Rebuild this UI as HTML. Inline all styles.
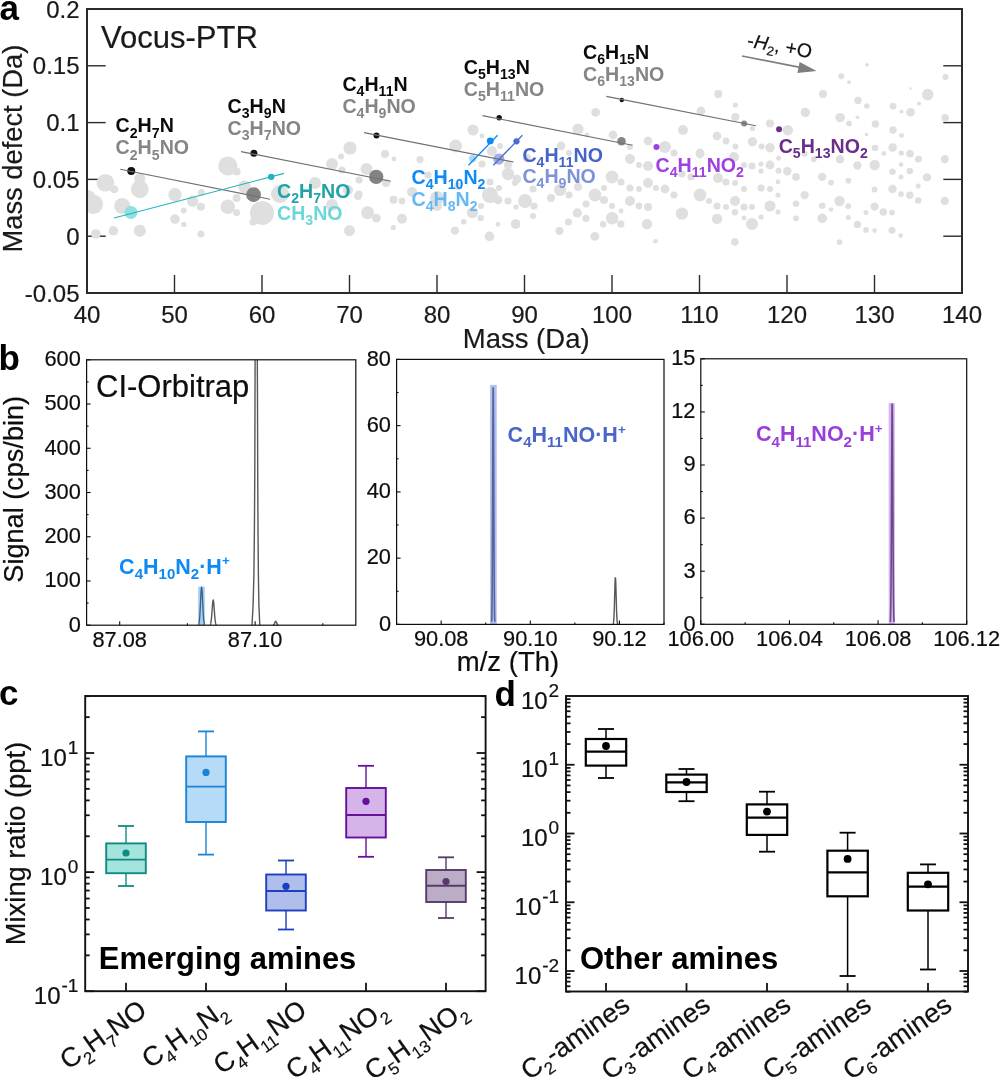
<!DOCTYPE html>
<html><head><meta charset="utf-8"><style>
html,body{margin:0;padding:0;background:#fff;}
svg{display:block;}
text{font-family:'Liberation Sans', Arial, sans-serif;}
</style></head><body>
<svg width="1000" height="1077" viewBox="0 0 1000 1077">
<rect x="0" y="0" width="1000" height="1077" fill="#fff"/>
<line x1="174.5" y1="293" x2="174.5" y2="275" stroke="#2b2b2b" stroke-width="1.4" />
<line x1="262" y1="293" x2="262" y2="275" stroke="#2b2b2b" stroke-width="1.4" />
<line x1="349.5" y1="293" x2="349.5" y2="275" stroke="#2b2b2b" stroke-width="1.4" />
<line x1="437" y1="293" x2="437" y2="275" stroke="#2b2b2b" stroke-width="1.4" />
<line x1="524.5" y1="293" x2="524.5" y2="275" stroke="#2b2b2b" stroke-width="1.4" />
<line x1="612" y1="293" x2="612" y2="275" stroke="#2b2b2b" stroke-width="1.4" />
<line x1="699.5" y1="293" x2="699.5" y2="275" stroke="#2b2b2b" stroke-width="1.4" />
<line x1="787" y1="293" x2="787" y2="275" stroke="#2b2b2b" stroke-width="1.4" />
<line x1="874.5" y1="293" x2="874.5" y2="275" stroke="#2b2b2b" stroke-width="1.4" />
<line x1="87" y1="65.8" x2="105.7" y2="65.8" stroke="#2b2b2b" stroke-width="1.4" />
<line x1="962" y1="65.8" x2="943.3" y2="65.8" stroke="#2b2b2b" stroke-width="1.4" />
<line x1="87" y1="122.6" x2="105.7" y2="122.6" stroke="#2b2b2b" stroke-width="1.4" />
<line x1="962" y1="122.6" x2="943.3" y2="122.6" stroke="#2b2b2b" stroke-width="1.4" />
<line x1="87" y1="179.4" x2="105.7" y2="179.4" stroke="#2b2b2b" stroke-width="1.4" />
<line x1="962" y1="179.4" x2="943.3" y2="179.4" stroke="#2b2b2b" stroke-width="1.4" />
<line x1="87" y1="236.2" x2="105.7" y2="236.2" stroke="#2b2b2b" stroke-width="1.4" />
<line x1="962" y1="236.2" x2="943.3" y2="236.2" stroke="#2b2b2b" stroke-width="1.4" />
<defs><clipPath id="ca"><rect x="87" y="9" width="875" height="284"/></clipPath></defs>
<g clip-path="url(#ca)" fill="#dfdfdf">
<circle cx="105.4" cy="182.8" r="8.8"/>
<circle cx="114.2" cy="189.2" r="4"/>
<circle cx="93.4" cy="204.4" r="9.6"/>
<circle cx="87.5" cy="198" r="8"/>
<circle cx="139.8" cy="178.8" r="5.6"/>
<circle cx="139.8" cy="189.2" r="8.8"/>
<circle cx="122.2" cy="206" r="8"/>
<circle cx="175" cy="194.8" r="6.7"/>
<circle cx="192.6" cy="201.2" r="5.6"/>
<circle cx="201.4" cy="192.4" r="3.5"/>
<circle cx="200.9" cy="206.8" r="4"/>
<circle cx="183.8" cy="210.5" r="2.9"/>
<circle cx="175" cy="219.1" r="4.8"/>
<circle cx="183.8" cy="224.4" r="2.7"/>
<circle cx="113.4" cy="230.8" r="4.8"/>
<circle cx="139.8" cy="230.8" r="6.1"/>
<circle cx="95.8" cy="234" r="4.8"/>
<circle cx="200.9" cy="234" r="3.5"/>
<circle cx="227.8" cy="166" r="9.6"/>
<circle cx="236.6" cy="171.6" r="4"/>
<circle cx="227.8" cy="206.8" r="7.2"/>
<circle cx="236.6" cy="212.4" r="3.5"/>
<circle cx="236.6" cy="198" r="4"/>
<circle cx="244.6" cy="186.8" r="6.4"/>
<circle cx="262" cy="213" r="12"/>
<circle cx="253" cy="222" r="3.6"/>
<circle cx="280" cy="194" r="9"/>
<circle cx="315" cy="183" r="6"/>
<circle cx="332" cy="164" r="6"/>
<circle cx="342" cy="170" r="3.6"/>
<circle cx="350" cy="148" r="6.6"/>
<circle cx="341" cy="156.5" r="3"/>
<circle cx="366.5" cy="169" r="6"/>
<circle cx="359" cy="180" r="3.6"/>
<circle cx="359" cy="194" r="3.6"/>
<circle cx="348" cy="190" r="5"/>
<circle cx="332" cy="205" r="6"/>
<circle cx="367.6" cy="212.6" r="6.4"/>
<circle cx="376.4" cy="218.1" r="4.4"/>
<circle cx="349.5" cy="230.6" r="5.5"/>
<circle cx="385" cy="154" r="4"/>
<circle cx="394" cy="159" r="2.4"/>
<circle cx="386" cy="183" r="4"/>
<circle cx="393.5" cy="199.8" r="4"/>
<circle cx="402" cy="201" r="3.4"/>
<circle cx="402" cy="218.8" r="5"/>
<circle cx="393.3" cy="227.6" r="2.6"/>
<circle cx="420" cy="159.6" r="3.6"/>
<circle cx="428" cy="175" r="3.6"/>
<circle cx="412" cy="192" r="5"/>
<circle cx="437" cy="198" r="7"/>
<circle cx="437" cy="206" r="5"/>
<circle cx="358" cy="196" r="4"/>
<circle cx="455.6" cy="146" r="6.4"/>
<circle cx="473" cy="130" r="5.6"/>
<circle cx="482" cy="136" r="2.4"/>
<circle cx="492" cy="151" r="5"/>
<circle cx="500" cy="146" r="3"/>
<circle cx="482" cy="164" r="3.6"/>
<circle cx="508" cy="165" r="4"/>
<circle cx="517" cy="179" r="4.4"/>
<circle cx="508" cy="174" r="6.2"/>
<circle cx="527" cy="158" r="4"/>
<circle cx="444" cy="178" r="3"/>
<circle cx="458" cy="186" r="4"/>
<circle cx="472.5" cy="212.6" r="5.6"/>
<circle cx="480.7" cy="218.1" r="3.2"/>
<circle cx="481" cy="206" r="3"/>
<circle cx="490" cy="195" r="8"/>
<circle cx="498" cy="200" r="4.4"/>
<circle cx="508" cy="201" r="3.6"/>
<circle cx="499" cy="188" r="3"/>
<circle cx="490" cy="182" r="3.6"/>
<circle cx="515" cy="183" r="3"/>
<circle cx="525" cy="201" r="7"/>
<circle cx="534" cy="206" r="3.6"/>
<circle cx="533" cy="216" r="3"/>
<circle cx="516" cy="207" r="2.6"/>
<circle cx="515.6" cy="224" r="4.8"/>
<circle cx="498" cy="224.4" r="2.4"/>
<circle cx="463.7" cy="221.8" r="2.8"/>
<circle cx="454.9" cy="230.6" r="4.2"/>
<circle cx="489.5" cy="236.4" r="4.8"/>
<circle cx="533" cy="189" r="3.6"/>
<circle cx="551" cy="198" r="4"/>
<circle cx="560" cy="190" r="6"/>
<circle cx="569" cy="195" r="3.6"/>
<circle cx="578" cy="187" r="4"/>
<circle cx="595" cy="195" r="6.4"/>
<circle cx="586" cy="204" r="3.6"/>
<circle cx="577.3" cy="212.9" r="4.6"/>
<circle cx="586" cy="218.4" r="3.6"/>
<circle cx="568.4" cy="222" r="3.6"/>
<circle cx="559.5" cy="230.9" r="4.2"/>
<circle cx="594.8" cy="236.4" r="4.4"/>
<circle cx="603.2" cy="224.4" r="3"/>
<circle cx="612.3" cy="218.4" r="6"/>
<circle cx="620.7" cy="224" r="3.6"/>
<circle cx="646.9" cy="224.4" r="5"/>
<circle cx="655.5" cy="241.2" r="2.3"/>
<circle cx="681.9" cy="213.6" r="6.2"/>
<circle cx="717.2" cy="218.9" r="5"/>
<circle cx="734.7" cy="212.4" r="3"/>
<circle cx="734.7" cy="241.9" r="3.6"/>
<circle cx="561" cy="146" r="4.4"/>
<circle cx="569" cy="153" r="3"/>
<circle cx="578" cy="129" r="5.6"/>
<circle cx="587" cy="135" r="2.4"/>
<circle cx="595.6" cy="112.4" r="4.4"/>
<circle cx="613" cy="135" r="4.4"/>
<circle cx="630" cy="147" r="3"/>
<circle cx="648" cy="141" r="4.4"/>
<circle cx="665" cy="147" r="6"/>
<circle cx="674" cy="153" r="3.6"/>
<circle cx="683" cy="130" r="5"/>
<circle cx="701" cy="111" r="4.4"/>
<circle cx="700" cy="153" r="4.4"/>
<circle cx="717" cy="136" r="4.4"/>
<circle cx="718.3" cy="94" r="4"/>
<circle cx="630" cy="159" r="5"/>
<circle cx="639" cy="165" r="3"/>
<circle cx="648" cy="166" r="5"/>
<circle cx="612" cy="177" r="6.4"/>
<circle cx="621" cy="182" r="3.6"/>
<circle cx="604" cy="188" r="3"/>
<circle cx="604" cy="200" r="4"/>
<circle cx="612" cy="206" r="3"/>
<circle cx="630" cy="188" r="3.6"/>
<circle cx="639" cy="189" r="3"/>
<circle cx="648" cy="183" r="5"/>
<circle cx="656" cy="188" r="3"/>
<circle cx="665" cy="189" r="4.4"/>
<circle cx="674" cy="195" r="3.6"/>
<circle cx="630" cy="201" r="5"/>
<circle cx="639" cy="206" r="3.4"/>
<circle cx="648" cy="207" r="4"/>
<circle cx="621" cy="211" r="2.4"/>
<circle cx="612" cy="218" r="6"/>
<circle cx="603" cy="224" r="3"/>
<circle cx="621" cy="224" r="3.4"/>
<circle cx="647" cy="224" r="5"/>
<circle cx="700" cy="195" r="6.4"/>
<circle cx="709" cy="201" r="3"/>
<circle cx="700" cy="154" r="4.4"/>
<circle cx="691" cy="177" r="3.6"/>
<circle cx="682" cy="174" r="3.6"/>
<circle cx="718" cy="178" r="5"/>
<circle cx="726" cy="182" r="3.6"/>
<circle cx="735" cy="183" r="3"/>
<circle cx="717" cy="206" r="3.6"/>
<circle cx="726" cy="207" r="3"/>
<circle cx="735" cy="201" r="5"/>
<circle cx="735" cy="212" r="3"/>
<circle cx="744" cy="207" r="3.6"/>
<circle cx="752" cy="207" r="3"/>
<circle cx="717" cy="219" r="5"/>
<circle cx="744" cy="218" r="2.4"/>
<circle cx="752" cy="224" r="6"/>
<circle cx="761" cy="217" r="2.6"/>
<circle cx="735" cy="242" r="3.6"/>
<circle cx="744" cy="189" r="3"/>
<circle cx="761" cy="188" r="3.6"/>
<circle cx="770" cy="189" r="3"/>
<circle cx="778" cy="195" r="2.6"/>
<circle cx="770" cy="206" r="5.6"/>
<circle cx="778" cy="212" r="2.6"/>
<circle cx="752" cy="166" r="3.6"/>
<circle cx="761" cy="164" r="2.6"/>
<circle cx="761" cy="171" r="2.6"/>
<circle cx="770" cy="165" r="4.4"/>
<circle cx="778" cy="171" r="2.4"/>
<circle cx="778" cy="182" r="2.4"/>
<circle cx="744" cy="165" r="3"/>
<circle cx="734" cy="157" r="5"/>
<circle cx="735.4" cy="105" r="2.6"/>
<circle cx="735.4" cy="117" r="4"/>
<circle cx="752.4" cy="128.6" r="2.6"/>
<circle cx="726" cy="141" r="3.4"/>
<circle cx="752.4" cy="141.7" r="4.7"/>
<circle cx="735.4" cy="146.5" r="3"/>
<circle cx="761.6" cy="146.5" r="3"/>
<circle cx="770" cy="147.8" r="4.7"/>
<circle cx="770" cy="123.4" r="4"/>
<circle cx="787.8" cy="130.2" r="5.2"/>
<circle cx="805.3" cy="112.4" r="4.7"/>
<circle cx="823" cy="94" r="4"/>
<circle cx="778.6" cy="158.2" r="2.5"/>
<circle cx="778.6" cy="170.7" r="2.9"/>
<circle cx="787.3" cy="171.3" r="4.2"/>
<circle cx="796" cy="176.9" r="3.8"/>
<circle cx="804.6" cy="195.1" r="4.2"/>
<circle cx="796" cy="203.7" r="3.3"/>
<circle cx="796" cy="218.3" r="2.9"/>
<circle cx="822.2" cy="205.7" r="3.3"/>
<circle cx="831" cy="209.5" r="2.3"/>
<circle cx="822.2" cy="218.3" r="4.8"/>
<circle cx="839.5" cy="201" r="5.2"/>
<circle cx="848.3" cy="206.2" r="2.9"/>
<circle cx="848.3" cy="217.4" r="2.5"/>
<circle cx="857.4" cy="224.5" r="3.8"/>
<circle cx="866" cy="229.9" r="2.9"/>
<circle cx="874.6" cy="230.6" r="2.3"/>
<circle cx="892" cy="230.2" r="3.5"/>
<circle cx="900.6" cy="235.6" r="2.3"/>
<circle cx="839.5" cy="242.1" r="2.9"/>
<circle cx="866" cy="212.6" r="2.5"/>
<circle cx="874.6" cy="206.6" r="4.2"/>
<circle cx="883.3" cy="212" r="3.8"/>
<circle cx="892" cy="212.6" r="2.9"/>
<circle cx="874.6" cy="189.5" r="2.9"/>
<circle cx="892.5" cy="189" r="4.2"/>
<circle cx="901" cy="194.1" r="2.9"/>
<circle cx="909.8" cy="195.3" r="3.8"/>
<circle cx="918.2" cy="200.5" r="3.3"/>
<circle cx="918.2" cy="186" r="2.5"/>
<circle cx="927" cy="177.4" r="4.2"/>
<circle cx="944.7" cy="201" r="4.2"/>
<circle cx="944.7" cy="159.6" r="3.8"/>
<circle cx="909.8" cy="153.8" r="3.5"/>
<circle cx="918.2" cy="159.2" r="3.3"/>
<circle cx="901" cy="153" r="2.4"/>
<circle cx="901" cy="164.6" r="2.3"/>
<circle cx="909.8" cy="171.1" r="3.3"/>
<circle cx="901" cy="176.9" r="2.5"/>
<circle cx="892.5" cy="171.7" r="3.3"/>
<circle cx="892.5" cy="147.7" r="4"/>
<circle cx="883.7" cy="153.4" r="2.2"/>
<circle cx="874.6" cy="148" r="3"/>
<circle cx="874.6" cy="165" r="5.2"/>
<circle cx="857.4" cy="165.5" r="4.2"/>
<circle cx="840" cy="159.2" r="4.2"/>
<circle cx="848.3" cy="180.7" r="2.9"/>
<circle cx="831" cy="182.6" r="2.9"/>
<circle cx="822.2" cy="176.9" r="4.2"/>
<circle cx="813.8" cy="159.2" r="2.9"/>
<circle cx="804.6" cy="153.8" r="3"/>
<circle cx="840" cy="117.6" r="4.7"/>
<circle cx="849" cy="123.4" r="2.6"/>
<circle cx="857" cy="117" r="1.6"/>
<circle cx="867" cy="64.8" r="1.9"/>
<circle cx="841.2" cy="76.3" r="3"/>
<circle cx="849" cy="82.2" r="1.9"/>
<circle cx="945.5" cy="77" r="3"/>
<circle cx="910.5" cy="88.5" r="1.2"/>
<circle cx="927.8" cy="94.6" r="5.8"/>
<circle cx="919" cy="103.5" r="2.1"/>
<circle cx="910.5" cy="112.3" r="4.3"/>
<circle cx="901.6" cy="111.5" r="1.9"/>
<circle cx="893" cy="106.2" r="3.4"/>
<circle cx="858" cy="100.5" r="3.7"/>
<circle cx="866.8" cy="105.9" r="2.7"/>
<circle cx="858" cy="117.6" r="1.5"/>
<circle cx="841.2" cy="117.8" r="3.7"/>
<circle cx="849.1" cy="123.7" r="2.7"/>
<circle cx="875.4" cy="123.9" r="3.7"/>
<circle cx="893" cy="130" r="3.7"/>
<circle cx="901.6" cy="135.5" r="2.4"/>
<circle cx="945.1" cy="117.8" r="3.7"/>
<circle cx="866.6" cy="134.6" r="1.8"/>
<circle cx="875.4" cy="147.7" r="3"/>
<circle cx="892.7" cy="147.3" r="4"/>
<circle cx="883.9" cy="153.4" r="2.2"/>
<circle cx="901.6" cy="153.2" r="2.4"/>
<circle cx="910.1" cy="153.8" r="3.7"/>
<circle cx="919" cy="158.7" r="3"/>
<circle cx="944.9" cy="158.7" r="3.7"/>
</g>
<rect x="87" y="9" width="875" height="284" stroke="#2b2b2b" stroke-width="2" fill="none" />
<text x="87" y="323" font-size="24" fill="#1a1a1a" text-anchor="middle" font-weight="normal" stroke="#1a1a1a" stroke-width="0.2" >40</text>
<text x="174.5" y="323" font-size="24" fill="#1a1a1a" text-anchor="middle" font-weight="normal" stroke="#1a1a1a" stroke-width="0.2" >50</text>
<text x="262" y="323" font-size="24" fill="#1a1a1a" text-anchor="middle" font-weight="normal" stroke="#1a1a1a" stroke-width="0.2" >60</text>
<text x="349.5" y="323" font-size="24" fill="#1a1a1a" text-anchor="middle" font-weight="normal" stroke="#1a1a1a" stroke-width="0.2" >70</text>
<text x="437" y="323" font-size="24" fill="#1a1a1a" text-anchor="middle" font-weight="normal" stroke="#1a1a1a" stroke-width="0.2" >80</text>
<text x="524.5" y="323" font-size="24" fill="#1a1a1a" text-anchor="middle" font-weight="normal" stroke="#1a1a1a" stroke-width="0.2" >90</text>
<text x="612" y="323" font-size="24" fill="#1a1a1a" text-anchor="middle" font-weight="normal" stroke="#1a1a1a" stroke-width="0.2" >100</text>
<text x="699.5" y="323" font-size="24" fill="#1a1a1a" text-anchor="middle" font-weight="normal" stroke="#1a1a1a" stroke-width="0.2" >110</text>
<text x="787" y="323" font-size="24" fill="#1a1a1a" text-anchor="middle" font-weight="normal" stroke="#1a1a1a" stroke-width="0.2" >120</text>
<text x="874.5" y="323" font-size="24" fill="#1a1a1a" text-anchor="middle" font-weight="normal" stroke="#1a1a1a" stroke-width="0.2" >130</text>
<text x="962" y="323" font-size="24" fill="#1a1a1a" text-anchor="middle" font-weight="normal" stroke="#1a1a1a" stroke-width="0.2" >140</text>
<text x="79.5" y="17.6" font-size="24" fill="#1a1a1a" text-anchor="end" font-weight="normal" stroke="#1a1a1a" stroke-width="0.2" >0.2</text>
<text x="79.5" y="74.4" font-size="24" fill="#1a1a1a" text-anchor="end" font-weight="normal" stroke="#1a1a1a" stroke-width="0.2" >0.15</text>
<text x="79.5" y="131.2" font-size="24" fill="#1a1a1a" text-anchor="end" font-weight="normal" stroke="#1a1a1a" stroke-width="0.2" >0.1</text>
<text x="79.5" y="188" font-size="24" fill="#1a1a1a" text-anchor="end" font-weight="normal" stroke="#1a1a1a" stroke-width="0.2" >0.05</text>
<text x="79.5" y="244.8" font-size="24" fill="#1a1a1a" text-anchor="end" font-weight="normal" stroke="#1a1a1a" stroke-width="0.2" >0</text>
<text x="79.5" y="301.6" font-size="24" fill="#1a1a1a" text-anchor="end" font-weight="normal" stroke="#1a1a1a" stroke-width="0.2" >-0.05</text>
<text x="526.2" y="347.7" font-size="27.5" fill="#1a1a1a" text-anchor="middle" font-weight="normal" stroke="#1a1a1a" stroke-width="0.2" >Mass (Da)</text>
<text x="21.5" y="148.9" font-size="27.3" fill="#1a1a1a" text-anchor="middle" font-weight="normal" stroke="#1a1a1a" stroke-width="0.2" transform="rotate(-90 21.5 148.6)">Mass defect (Da)</text>
<text x="-0.6" y="20.2" font-size="35" fill="#000" text-anchor="start" font-weight="bold"  >a</text>
<text x="101" y="47.7" font-size="31" fill="#1a1a1a" text-anchor="start" font-weight="normal" stroke="#1a1a1a" stroke-width="0.2" >Vocus-PTR</text>
<circle cx="253.57" cy="194.64" r="7.4" fill="#838383" />
<circle cx="376.21" cy="176.86" r="7.2" fill="#838383" />
<circle cx="621.49" cy="141.3" r="4.3" fill="#858585" />
<circle cx="744.12" cy="123.52" r="3" fill="#888888" />
<circle cx="131.26" cy="171.08" r="4" fill="#111" />
<circle cx="253.89" cy="153.3" r="3.5" fill="#111" />
<circle cx="376.53" cy="135.53" r="3" fill="#111" />
<circle cx="499.17" cy="117.75" r="2.7" fill="#111" />
<circle cx="621.8" cy="99.97" r="2.2" fill="#111" />
<circle cx="130.94" cy="212.42" r="6.5" fill="#8fe0e0" />
<circle cx="271.21" cy="176.86" r="3.2" fill="#22b4be" />
<circle cx="472.6" cy="158.7" r="3.6" fill="#a8d6f6" />
<circle cx="490.24" cy="140.92" r="3.4" fill="#0d8af5" />
<circle cx="498.85" cy="159.08" r="5.6" fill="#a3ade6" />
<circle cx="516.49" cy="141.3" r="3.1" fill="#4a6ad0" />
<circle cx="656.44" cy="147.08" r="3" fill="#a040e0" />
<circle cx="779.08" cy="129.3" r="3" fill="#6a2d8a" />
<line x1="120.2" y1="169.2" x2="270" y2="199.2" stroke="#717171" stroke-width="1.15" />
<line x1="241" y1="151.6" x2="390.9" y2="181.2" stroke="#717171" stroke-width="1.15" />
<line x1="364" y1="132.6" x2="513.6" y2="162" stroke="#717171" stroke-width="1.15" />
<line x1="482.5" y1="115.6" x2="632.5" y2="145.2" stroke="#717171" stroke-width="1.15" />
<line x1="606.3" y1="96.4" x2="755.9" y2="125.8" stroke="#717171" stroke-width="1.15" />
<line x1="114" y1="218" x2="284" y2="173.4" stroke="#20b4c0" stroke-width="1.1" />
<line x1="468.5" y1="165.3" x2="497.6" y2="135.2" stroke="#0d8af5" stroke-width="1.3" />
<line x1="493.3" y1="165.3" x2="522.4" y2="135.2" stroke="#4a6ad0" stroke-width="1.3" />
<text x="115.6" y="132.4" font-size="19.6" fill="#0a0a0a" font-weight="bold" text-anchor="start"  >C<tspan font-size="14.11" dy="5.1">2</tspan><tspan dy="-5.1">H</tspan><tspan font-size="14.11" dy="5.1">7</tspan><tspan dy="-5.1">N</tspan></text>
<text x="115.6" y="154.4" font-size="19.6" fill="#858585" font-weight="bold" text-anchor="start"  >C<tspan font-size="14.11" dy="5.1">2</tspan><tspan dy="-5.1">H</tspan><tspan font-size="14.11" dy="5.1">5</tspan><tspan dy="-5.1">NO</tspan></text>
<text x="227.6" y="113" font-size="19.6" fill="#0a0a0a" font-weight="bold" text-anchor="start"  >C<tspan font-size="14.11" dy="5.1">3</tspan><tspan dy="-5.1">H</tspan><tspan font-size="14.11" dy="5.1">9</tspan><tspan dy="-5.1">N</tspan></text>
<text x="227.6" y="135" font-size="19.6" fill="#858585" font-weight="bold" text-anchor="start"  >C<tspan font-size="14.11" dy="5.1">3</tspan><tspan dy="-5.1">H</tspan><tspan font-size="14.11" dy="5.1">7</tspan><tspan dy="-5.1">NO</tspan></text>
<text x="342.4" y="91" font-size="19.6" fill="#0a0a0a" font-weight="bold" text-anchor="start"  >C<tspan font-size="14.11" dy="5.1">4</tspan><tspan dy="-5.1">H</tspan><tspan font-size="14.11" dy="5.1">11</tspan><tspan dy="-5.1">N</tspan></text>
<text x="342.4" y="113" font-size="19.6" fill="#858585" font-weight="bold" text-anchor="start"  >C<tspan font-size="14.11" dy="5.1">4</tspan><tspan dy="-5.1">H</tspan><tspan font-size="14.11" dy="5.1">9</tspan><tspan dy="-5.1">NO</tspan></text>
<text x="463.8" y="73.8" font-size="19.6" fill="#0a0a0a" font-weight="bold" text-anchor="start"  >C<tspan font-size="14.11" dy="5.1">5</tspan><tspan dy="-5.1">H</tspan><tspan font-size="14.11" dy="5.1">13</tspan><tspan dy="-5.1">N</tspan></text>
<text x="463.8" y="95.5" font-size="19.6" fill="#858585" font-weight="bold" text-anchor="start"  >C<tspan font-size="14.11" dy="5.1">5</tspan><tspan dy="-5.1">H</tspan><tspan font-size="14.11" dy="5.1">11</tspan><tspan dy="-5.1">NO</tspan></text>
<text x="583" y="58.8" font-size="19.6" fill="#0a0a0a" font-weight="bold" text-anchor="start"  >C<tspan font-size="14.11" dy="5.1">6</tspan><tspan dy="-5.1">H</tspan><tspan font-size="14.11" dy="5.1">15</tspan><tspan dy="-5.1">N</tspan></text>
<text x="583" y="81.2" font-size="19.6" fill="#858585" font-weight="bold" text-anchor="start"  >C<tspan font-size="14.11" dy="5.1">6</tspan><tspan dy="-5.1">H</tspan><tspan font-size="14.11" dy="5.1">13</tspan><tspan dy="-5.1">NO</tspan></text>
<text x="277" y="197.5" font-size="19.6" fill="#1fa3a6" font-weight="bold" text-anchor="start"  >C<tspan font-size="14.11" dy="5.1">2</tspan><tspan dy="-5.1">H</tspan><tspan font-size="14.11" dy="5.1">7</tspan><tspan dy="-5.1">NO</tspan></text>
<text x="277" y="219.5" font-size="19.6" fill="#6dd6d8" font-weight="bold" text-anchor="start"  >CH<tspan font-size="14.11" dy="5.1">3</tspan><tspan dy="-5.1">NO</tspan></text>
<text x="411.5" y="183.6" font-size="19.6" fill="#0d8af5" font-weight="bold" text-anchor="start"  >C<tspan font-size="14.11" dy="5.1">4</tspan><tspan dy="-5.1">H</tspan><tspan font-size="14.11" dy="5.1">10</tspan><tspan dy="-5.1">N</tspan><tspan font-size="14.11" dy="5.1">2</tspan></text>
<text x="411.5" y="205.8" font-size="19.6" fill="#66b8f5" font-weight="bold" text-anchor="start"  >C<tspan font-size="14.11" dy="5.1">4</tspan><tspan dy="-5.1">H</tspan><tspan font-size="14.11" dy="5.1">8</tspan><tspan dy="-5.1">N</tspan><tspan font-size="14.11" dy="5.1">2</tspan></text>
<text x="522.4" y="161.5" font-size="19.6" fill="#4664c8" font-weight="bold" text-anchor="start"  >C<tspan font-size="14.11" dy="5.1">4</tspan><tspan dy="-5.1">H</tspan><tspan font-size="14.11" dy="5.1">11</tspan><tspan dy="-5.1">NO</tspan></text>
<text x="522.4" y="183.2" font-size="19.6" fill="#7d92d8" font-weight="bold" text-anchor="start"  >C<tspan font-size="14.11" dy="5.1">4</tspan><tspan dy="-5.1">H</tspan><tspan font-size="14.11" dy="5.1">9</tspan><tspan dy="-5.1">NO</tspan></text>
<text x="655.6" y="171.7" font-size="19.6" fill="#a040e0" font-weight="bold" text-anchor="start"  >C<tspan font-size="14.11" dy="5.1">4</tspan><tspan dy="-5.1">H</tspan><tspan font-size="14.11" dy="5.1">11</tspan><tspan dy="-5.1">NO</tspan><tspan font-size="14.11" dy="5.1">2</tspan></text>
<text x="778.7" y="152.5" font-size="19.6" fill="#6a2d8a" font-weight="bold" text-anchor="start"  >C<tspan font-size="14.11" dy="5.1">5</tspan><tspan dy="-5.1">H</tspan><tspan font-size="14.11" dy="5.1">13</tspan><tspan dy="-5.1">NO</tspan><tspan font-size="14.11" dy="5.1">2</tspan></text>
<line x1="742" y1="56" x2="800" y2="67.4" stroke="#7f7f7f" stroke-width="1.6" />
<polygon points="816.6,71 799.6,62 797.4,73" fill="#7f7f7f"/>
<text x="746.5" y="46.5" font-size="19.5" fill="#111" stroke="#111" stroke-width="0.2" transform="rotate(10.5 746.5 46.5)">-<tspan font-style="italic">H</tspan><tspan font-size="13" dy="4.5">2</tspan><tspan dy="-4.5">, +O</tspan></text>
<text x="-1.4" y="369.8" font-size="35" fill="#000" text-anchor="start" font-weight="bold"  >b</text>
<defs><clipPath id="cb1"><rect x="86.6" y="359.8" width="269.20000000000005" height="265.40000000000003"/></clipPath></defs>
<rect x="198.2" y="586.72" width="6.6" height="38.48" stroke="none" stroke-width="1" fill="#8fc8f2" opacity="0.85"/>
<rect x="490.1" y="384.91" width="6.6" height="239.49" stroke="none" stroke-width="1" fill="#b3bdf0" />
<rect x="888.7" y="403.05" width="6.1" height="221.25" stroke="none" stroke-width="1" fill="#d6b3f2" />
<polyline points="198.35,624.78 198.51,624.55 198.67,624.22 198.84,623.74 199,623.08 199.16,622.2 199.32,621.04 199.49,619.57 199.65,617.74 199.81,615.54 199.97,612.96 200.14,610.04 200.3,606.85 200.46,603.48 200.62,600.05 200.79,596.74 200.95,593.71 201.11,591.13 201.28,589.16 201.44,587.92 201.6,587.5 201.76,587.92 201.92,589.16 202.09,591.13 202.25,593.71 202.41,596.74 202.57,600.05 202.74,603.48 202.9,606.85 203.06,610.04 203.22,612.96 203.39,615.54 203.55,617.74 203.71,619.57 203.88,621.04 204.04,622.2 204.2,623.08 204.36,623.74 204.53,624.22 204.69,624.55 204.85,624.78" fill="none" stroke="#3f5f80" stroke-width="1.3" />
<polyline points="209.95,624.92 210.11,624.77 210.27,624.55 210.44,624.23 210.6,623.8 210.76,623.21 210.92,622.44 211.09,621.47 211.25,620.25 211.41,618.79 211.57,617.08 211.74,615.15 211.9,613.03 212.06,610.79 212.22,608.53 212.39,606.33 212.55,604.32 212.71,602.61 212.88,601.3 213.04,600.48 213.2,600.2 213.36,600.48 213.52,601.3 213.69,602.61 213.85,604.32 214.01,606.33 214.17,608.53 214.34,610.79 214.5,613.03 214.66,615.15 214.82,617.08 214.99,618.79 215.15,620.25 215.31,621.47 215.47,622.44 215.64,623.21 215.8,623.8 215.96,624.23 216.12,624.55 216.29,624.77 216.45,624.92" fill="none" stroke="#575757" stroke-width="1.4" />
<polyline points="252.0,625.2 253.1,605 253.9,575 254.4,530 254.8,470 255.0,400 255.1,359.8" fill="none" stroke="#575757" stroke-width="1.4"/>
<polyline points="257.3,359.8 257.5,400 257.7,470 258.0,530 258.4,575 258.9,605 259.8,625.2" fill="none" stroke="#575757" stroke-width="1.4"/>
<polyline points="272.95,625.16 273.09,625.13 273.22,625.1 273.36,625.05 273.5,624.98 273.64,624.89 273.77,624.77 273.91,624.62 274.05,624.43 274.19,624.2 274.32,623.93 274.46,623.63 274.6,623.3 274.74,622.95 274.88,622.6 275.01,622.26 275.15,621.94 275.29,621.68 275.43,621.47 275.56,621.34 275.7,621.3 275.84,621.34 275.97,621.47 276.11,621.68 276.25,621.94 276.39,622.26 276.52,622.6 276.66,622.95 276.8,623.3 276.94,623.63 277.07,623.93 277.21,624.2 277.35,624.43 277.49,624.62 277.62,624.77 277.76,624.89 277.9,624.98 278.04,625.05 278.18,625.1 278.31,625.13 278.45,625.16" fill="none" stroke="#575757" stroke-width="1.4" />
<polyline points="491.6,621.76 491.68,620.31 491.76,618.2 491.84,615.21 491.92,611.08 492,605.53 492.08,598.25 492.16,588.97 492.24,577.46 492.32,563.6 492.4,547.39 492.48,529.04 492.56,508.94 492.64,487.72 492.72,466.19 492.8,445.35 492.88,426.27 492.96,410.04 493.04,397.64 493.12,389.85 493.2,387.2 493.28,389.85 493.36,397.64 493.44,410.04 493.52,426.27 493.6,445.35 493.68,466.19 493.76,487.72 493.84,508.94 493.92,529.04 494,547.39 494.08,563.6 494.16,577.46 494.24,588.97 494.32,598.25 494.4,605.53 494.48,611.08 494.56,615.21 494.64,618.2 494.72,620.31 494.8,621.76" fill="none" stroke="#55679a" stroke-width="1.6" />
<polyline points="613.15,623.88 613.26,623.59 613.38,623.17 613.49,622.58 613.6,621.76 613.71,620.66 613.82,619.22 613.94,617.38 614.05,615.1 614.16,612.35 614.27,609.14 614.39,605.5 614.5,601.52 614.61,597.32 614.73,593.05 614.84,588.92 614.95,585.14 615.06,581.93 615.17,579.47 615.29,577.93 615.4,577.4 615.51,577.93 615.62,579.47 615.74,581.93 615.85,585.14 615.96,588.92 616.07,593.05 616.19,597.32 616.3,601.52 616.41,605.5 616.52,609.14 616.64,612.35 616.75,615.1 616.86,617.38 616.98,619.22 617.09,620.66 617.2,621.76 617.31,622.58 617.42,623.17 617.54,623.59 617.65,623.88" fill="none" stroke="#575757" stroke-width="1.4" />
<polyline points="890.3,621.85 890.4,620.5 890.49,618.53 890.59,615.75 890.68,611.91 890.78,606.73 890.87,599.96 890.97,591.32 891.06,580.6 891.16,567.7 891.25,552.62 891.35,535.53 891.44,516.83 891.54,497.07 891.63,477.03 891.73,457.63 891.82,439.87 891.92,424.76 892.01,413.22 892.11,405.97 892.2,403.5 892.3,405.97 892.39,413.22 892.49,424.76 892.58,439.87 892.68,457.63 892.77,477.03 892.87,497.07 892.96,516.83 893.06,535.53 893.15,552.62 893.25,567.7 893.34,580.6 893.44,591.32 893.53,599.96 893.62,606.73 893.72,611.91 893.82,615.75 893.91,618.53 894,620.5 894.1,621.85" fill="none" stroke="#6b4a8c" stroke-width="1.6" />
<line x1="86.6" y1="625.2" x2="90.6" y2="625.2" stroke="#0d0d0d" stroke-width="1.1" />
<text x="80.8" y="631.5" font-size="21.8" fill="#0d0d0d" text-anchor="end" font-weight="normal" stroke="#0d0d0d" stroke-width="0.2" >0</text>
<line x1="86.6" y1="580.97" x2="90.6" y2="580.97" stroke="#0d0d0d" stroke-width="1.1" />
<text x="80.8" y="587.27" font-size="21.8" fill="#0d0d0d" text-anchor="end" font-weight="normal" stroke="#0d0d0d" stroke-width="0.2" >100</text>
<line x1="86.6" y1="536.73" x2="90.6" y2="536.73" stroke="#0d0d0d" stroke-width="1.1" />
<text x="80.8" y="543.03" font-size="21.8" fill="#0d0d0d" text-anchor="end" font-weight="normal" stroke="#0d0d0d" stroke-width="0.2" >200</text>
<line x1="86.6" y1="492.5" x2="90.6" y2="492.5" stroke="#0d0d0d" stroke-width="1.1" />
<text x="80.8" y="498.8" font-size="21.8" fill="#0d0d0d" text-anchor="end" font-weight="normal" stroke="#0d0d0d" stroke-width="0.2" >300</text>
<line x1="86.6" y1="448.27" x2="90.6" y2="448.27" stroke="#0d0d0d" stroke-width="1.1" />
<text x="80.8" y="454.57" font-size="21.8" fill="#0d0d0d" text-anchor="end" font-weight="normal" stroke="#0d0d0d" stroke-width="0.2" >400</text>
<line x1="86.6" y1="404.03" x2="90.6" y2="404.03" stroke="#0d0d0d" stroke-width="1.1" />
<text x="80.8" y="410.33" font-size="21.8" fill="#0d0d0d" text-anchor="end" font-weight="normal" stroke="#0d0d0d" stroke-width="0.2" >500</text>
<line x1="86.6" y1="359.8" x2="90.6" y2="359.8" stroke="#0d0d0d" stroke-width="1.1" />
<text x="80.8" y="366.1" font-size="21.8" fill="#0d0d0d" text-anchor="end" font-weight="normal" stroke="#0d0d0d" stroke-width="0.2" >600</text>
<line x1="86.6" y1="603.08" x2="88.6" y2="603.08" stroke="#0d0d0d" stroke-width="1.1" />
<line x1="86.6" y1="558.85" x2="88.6" y2="558.85" stroke="#0d0d0d" stroke-width="1.1" />
<line x1="86.6" y1="514.62" x2="88.6" y2="514.62" stroke="#0d0d0d" stroke-width="1.1" />
<line x1="86.6" y1="470.38" x2="88.6" y2="470.38" stroke="#0d0d0d" stroke-width="1.1" />
<line x1="86.6" y1="426.15" x2="88.6" y2="426.15" stroke="#0d0d0d" stroke-width="1.1" />
<line x1="86.6" y1="381.92" x2="88.6" y2="381.92" stroke="#0d0d0d" stroke-width="1.1" />
<line x1="119.7" y1="625.2" x2="119.7" y2="621.2" stroke="#0d0d0d" stroke-width="1.1" />
<text x="119.7" y="647.2" font-size="21.8" fill="#0d0d0d" text-anchor="middle" font-weight="normal" stroke="#0d0d0d" stroke-width="0.2" >87.08</text>
<line x1="255.1" y1="625.2" x2="255.1" y2="621.2" stroke="#0d0d0d" stroke-width="1.1" />
<text x="255.1" y="647.2" font-size="21.8" fill="#0d0d0d" text-anchor="middle" font-weight="normal" stroke="#0d0d0d" stroke-width="0.2" >87.10</text>
<line x1="187.4" y1="625.2" x2="187.4" y2="623.2" stroke="#0d0d0d" stroke-width="1.1" />
<line x1="322.8" y1="625.2" x2="322.8" y2="623.2" stroke="#0d0d0d" stroke-width="1.1" />
<rect x="86.6" y="359.8" width="269.2" height="265.4" stroke="#0d0d0d" stroke-width="1.2" fill="none" />
<line x1="396.6" y1="624.4" x2="400.6" y2="624.4" stroke="#0d0d0d" stroke-width="1.1" />
<text x="391" y="630.7" font-size="21.8" fill="#0d0d0d" text-anchor="end" font-weight="normal" stroke="#0d0d0d" stroke-width="0.2" >0</text>
<line x1="396.6" y1="558.15" x2="400.6" y2="558.15" stroke="#0d0d0d" stroke-width="1.1" />
<text x="391" y="564.45" font-size="21.8" fill="#0d0d0d" text-anchor="end" font-weight="normal" stroke="#0d0d0d" stroke-width="0.2" >20</text>
<line x1="396.6" y1="491.9" x2="400.6" y2="491.9" stroke="#0d0d0d" stroke-width="1.1" />
<text x="391" y="498.2" font-size="21.8" fill="#0d0d0d" text-anchor="end" font-weight="normal" stroke="#0d0d0d" stroke-width="0.2" >40</text>
<line x1="396.6" y1="425.65" x2="400.6" y2="425.65" stroke="#0d0d0d" stroke-width="1.1" />
<text x="391" y="431.95" font-size="21.8" fill="#0d0d0d" text-anchor="end" font-weight="normal" stroke="#0d0d0d" stroke-width="0.2" >60</text>
<line x1="396.6" y1="359.4" x2="400.6" y2="359.4" stroke="#0d0d0d" stroke-width="1.1" />
<text x="391" y="365.7" font-size="21.8" fill="#0d0d0d" text-anchor="end" font-weight="normal" stroke="#0d0d0d" stroke-width="0.2" >80</text>
<line x1="396.6" y1="591.27" x2="398.6" y2="591.27" stroke="#0d0d0d" stroke-width="1.1" />
<line x1="396.6" y1="525.02" x2="398.6" y2="525.02" stroke="#0d0d0d" stroke-width="1.1" />
<line x1="396.6" y1="458.77" x2="398.6" y2="458.77" stroke="#0d0d0d" stroke-width="1.1" />
<line x1="396.6" y1="392.52" x2="398.6" y2="392.52" stroke="#0d0d0d" stroke-width="1.1" />
<line x1="441.17" y1="624.4" x2="441.17" y2="620.4" stroke="#0d0d0d" stroke-width="1.1" />
<text x="441.17" y="646.4" font-size="21.8" fill="#0d0d0d" text-anchor="middle" font-weight="normal" stroke="#0d0d0d" stroke-width="0.2" >90.08</text>
<line x1="530.3" y1="624.4" x2="530.3" y2="620.4" stroke="#0d0d0d" stroke-width="1.1" />
<text x="530.3" y="646.4" font-size="21.8" fill="#0d0d0d" text-anchor="middle" font-weight="normal" stroke="#0d0d0d" stroke-width="0.2" >90.10</text>
<line x1="619.43" y1="624.4" x2="619.43" y2="620.4" stroke="#0d0d0d" stroke-width="1.1" />
<text x="619.43" y="646.4" font-size="21.8" fill="#0d0d0d" text-anchor="middle" font-weight="normal" stroke="#0d0d0d" stroke-width="0.2" >90.12</text>
<line x1="396.6" y1="624.4" x2="396.6" y2="622.4" stroke="#0d0d0d" stroke-width="1.1" />
<line x1="485.73" y1="624.4" x2="485.73" y2="622.4" stroke="#0d0d0d" stroke-width="1.1" />
<line x1="574.87" y1="624.4" x2="574.87" y2="622.4" stroke="#0d0d0d" stroke-width="1.1" />
<line x1="664" y1="624.4" x2="664" y2="622.4" stroke="#0d0d0d" stroke-width="1.1" />
<rect x="396.6" y="359.4" width="267.4" height="265" stroke="#0d0d0d" stroke-width="1.2" fill="none" />
<line x1="700.8" y1="624.3" x2="704.8" y2="624.3" stroke="#0d0d0d" stroke-width="1.1" />
<text x="695.5" y="630.6" font-size="21.8" fill="#0d0d0d" text-anchor="end" font-weight="normal" stroke="#0d0d0d" stroke-width="0.2" >0</text>
<line x1="700.8" y1="571.2" x2="704.8" y2="571.2" stroke="#0d0d0d" stroke-width="1.1" />
<text x="695.5" y="577.5" font-size="21.8" fill="#0d0d0d" text-anchor="end" font-weight="normal" stroke="#0d0d0d" stroke-width="0.2" >3</text>
<line x1="700.8" y1="518.1" x2="704.8" y2="518.1" stroke="#0d0d0d" stroke-width="1.1" />
<text x="695.5" y="524.4" font-size="21.8" fill="#0d0d0d" text-anchor="end" font-weight="normal" stroke="#0d0d0d" stroke-width="0.2" >6</text>
<line x1="700.8" y1="465" x2="704.8" y2="465" stroke="#0d0d0d" stroke-width="1.1" />
<text x="695.5" y="471.3" font-size="21.8" fill="#0d0d0d" text-anchor="end" font-weight="normal" stroke="#0d0d0d" stroke-width="0.2" >9</text>
<line x1="700.8" y1="411.9" x2="704.8" y2="411.9" stroke="#0d0d0d" stroke-width="1.1" />
<text x="695.5" y="418.2" font-size="21.8" fill="#0d0d0d" text-anchor="end" font-weight="normal" stroke="#0d0d0d" stroke-width="0.2" >12</text>
<line x1="700.8" y1="358.8" x2="704.8" y2="358.8" stroke="#0d0d0d" stroke-width="1.1" />
<text x="695.5" y="365.1" font-size="21.8" fill="#0d0d0d" text-anchor="end" font-weight="normal" stroke="#0d0d0d" stroke-width="0.2" >15</text>
<line x1="700.8" y1="597.75" x2="702.8" y2="597.75" stroke="#0d0d0d" stroke-width="1.1" />
<line x1="700.8" y1="544.65" x2="702.8" y2="544.65" stroke="#0d0d0d" stroke-width="1.1" />
<line x1="700.8" y1="491.55" x2="702.8" y2="491.55" stroke="#0d0d0d" stroke-width="1.1" />
<line x1="700.8" y1="438.45" x2="702.8" y2="438.45" stroke="#0d0d0d" stroke-width="1.1" />
<line x1="700.8" y1="385.35" x2="702.8" y2="385.35" stroke="#0d0d0d" stroke-width="1.1" />
<line x1="700.8" y1="624.3" x2="700.8" y2="620.3" stroke="#0d0d0d" stroke-width="1.1" />
<text x="700.8" y="646.3" font-size="21.8" fill="#0d0d0d" text-anchor="middle" font-weight="normal" stroke="#0d0d0d" stroke-width="0.2" >106.00</text>
<line x1="789.43" y1="624.3" x2="789.43" y2="620.3" stroke="#0d0d0d" stroke-width="1.1" />
<text x="789.43" y="646.3" font-size="21.8" fill="#0d0d0d" text-anchor="middle" font-weight="normal" stroke="#0d0d0d" stroke-width="0.2" >106.04</text>
<line x1="878.07" y1="624.3" x2="878.07" y2="620.3" stroke="#0d0d0d" stroke-width="1.1" />
<text x="878.07" y="646.3" font-size="21.8" fill="#0d0d0d" text-anchor="middle" font-weight="normal" stroke="#0d0d0d" stroke-width="0.2" >106.08</text>
<line x1="966.7" y1="624.3" x2="966.7" y2="620.3" stroke="#0d0d0d" stroke-width="1.1" />
<text x="966.7" y="646.3" font-size="21.8" fill="#0d0d0d" text-anchor="middle" font-weight="normal" stroke="#0d0d0d" stroke-width="0.2" >106.12</text>
<line x1="745.12" y1="624.3" x2="745.12" y2="622.3" stroke="#0d0d0d" stroke-width="1.1" />
<line x1="833.75" y1="624.3" x2="833.75" y2="622.3" stroke="#0d0d0d" stroke-width="1.1" />
<line x1="922.38" y1="624.3" x2="922.38" y2="622.3" stroke="#0d0d0d" stroke-width="1.1" />
<rect x="700.8" y="358.8" width="265.9" height="265.5" stroke="#0d0d0d" stroke-width="1.2" fill="none" />
<text x="96" y="396.6" font-size="31" fill="#0d0d0d" text-anchor="start" font-weight="normal" stroke="#0d0d0d" stroke-width="0.2" >CI-Orbitrap</text>
<text x="23" y="489.3" font-size="27.1" fill="#0d0d0d" text-anchor="middle" font-weight="normal" stroke="#0d0d0d" stroke-width="0.2" transform="rotate(-90 23 489.3)">Signal (cps/bin)</text>
<text x="508" y="671.4" font-size="27.5" fill="#0d0d0d" text-anchor="middle" font-weight="normal" stroke="#0d0d0d" stroke-width="0.2" >m/z (Th)</text>
<text x="119.1" y="573.5" font-size="21.5" fill="#0d8af5" font-weight="bold" text-anchor="start"  >C<tspan font-size="15.05" dy="5.38">4</tspan><tspan dy="-5.38">H</tspan><tspan font-size="15.05" dy="5.38">10</tspan><tspan dy="-5.38">N</tspan><tspan font-size="15.05" dy="5.38">2</tspan><tspan dy="-5.38">·H</tspan><tspan font-size="13.33" dy="-8.17">+</tspan></text>
<text x="507.6" y="442" font-size="21.5" fill="#4a66c8" font-weight="bold" text-anchor="start"  >C<tspan font-size="15.05" dy="5.38">4</tspan><tspan dy="-5.38">H</tspan><tspan font-size="15.05" dy="5.38">11</tspan><tspan dy="-5.38">NO·H</tspan><tspan font-size="13.33" dy="-8.17">+</tspan></text>
<text x="756" y="441.2" font-size="21.5" fill="#9a3fd6" font-weight="bold" text-anchor="start"  >C<tspan font-size="15.05" dy="5.38">4</tspan><tspan dy="-5.38">H</tspan><tspan font-size="15.05" dy="5.38">11</tspan><tspan dy="-5.38">NO</tspan><tspan font-size="15.05" dy="5.38">2</tspan><tspan dy="-5.38">·H</tspan><tspan font-size="13.33" dy="-8.17">+</tspan></text>
<text x="-0.9" y="705.3" font-size="35" fill="#000" text-anchor="start" font-weight="bold"  >c</text>
<line x1="85.2" y1="991.2" x2="94.2" y2="991.2" stroke="#111" stroke-width="1.8" />
<line x1="485.6" y1="991.2" x2="476.6" y2="991.2" stroke="#111" stroke-width="1.8" />
<line x1="85.2" y1="955.35" x2="89.7" y2="955.35" stroke="#111" stroke-width="1.8" />
<line x1="485.6" y1="955.35" x2="481.1" y2="955.35" stroke="#111" stroke-width="1.8" />
<line x1="85.2" y1="934.37" x2="89.7" y2="934.37" stroke="#111" stroke-width="1.8" />
<line x1="485.6" y1="934.37" x2="481.1" y2="934.37" stroke="#111" stroke-width="1.8" />
<line x1="85.2" y1="919.49" x2="89.7" y2="919.49" stroke="#111" stroke-width="1.8" />
<line x1="485.6" y1="919.49" x2="481.1" y2="919.49" stroke="#111" stroke-width="1.8" />
<line x1="85.2" y1="907.95" x2="89.7" y2="907.95" stroke="#111" stroke-width="1.8" />
<line x1="485.6" y1="907.95" x2="481.1" y2="907.95" stroke="#111" stroke-width="1.8" />
<line x1="85.2" y1="898.52" x2="89.7" y2="898.52" stroke="#111" stroke-width="1.8" />
<line x1="485.6" y1="898.52" x2="481.1" y2="898.52" stroke="#111" stroke-width="1.8" />
<line x1="85.2" y1="890.55" x2="89.7" y2="890.55" stroke="#111" stroke-width="1.8" />
<line x1="485.6" y1="890.55" x2="481.1" y2="890.55" stroke="#111" stroke-width="1.8" />
<line x1="85.2" y1="883.64" x2="89.7" y2="883.64" stroke="#111" stroke-width="1.8" />
<line x1="485.6" y1="883.64" x2="481.1" y2="883.64" stroke="#111" stroke-width="1.8" />
<line x1="85.2" y1="877.55" x2="89.7" y2="877.55" stroke="#111" stroke-width="1.8" />
<line x1="485.6" y1="877.55" x2="481.1" y2="877.55" stroke="#111" stroke-width="1.8" />
<line x1="85.2" y1="872.1" x2="94.2" y2="872.1" stroke="#111" stroke-width="1.8" />
<line x1="485.6" y1="872.1" x2="476.6" y2="872.1" stroke="#111" stroke-width="1.8" />
<line x1="85.2" y1="836.25" x2="89.7" y2="836.25" stroke="#111" stroke-width="1.8" />
<line x1="485.6" y1="836.25" x2="481.1" y2="836.25" stroke="#111" stroke-width="1.8" />
<line x1="85.2" y1="815.27" x2="89.7" y2="815.27" stroke="#111" stroke-width="1.8" />
<line x1="485.6" y1="815.27" x2="481.1" y2="815.27" stroke="#111" stroke-width="1.8" />
<line x1="85.2" y1="800.39" x2="89.7" y2="800.39" stroke="#111" stroke-width="1.8" />
<line x1="485.6" y1="800.39" x2="481.1" y2="800.39" stroke="#111" stroke-width="1.8" />
<line x1="85.2" y1="788.85" x2="89.7" y2="788.85" stroke="#111" stroke-width="1.8" />
<line x1="485.6" y1="788.85" x2="481.1" y2="788.85" stroke="#111" stroke-width="1.8" />
<line x1="85.2" y1="779.42" x2="89.7" y2="779.42" stroke="#111" stroke-width="1.8" />
<line x1="485.6" y1="779.42" x2="481.1" y2="779.42" stroke="#111" stroke-width="1.8" />
<line x1="85.2" y1="771.45" x2="89.7" y2="771.45" stroke="#111" stroke-width="1.8" />
<line x1="485.6" y1="771.45" x2="481.1" y2="771.45" stroke="#111" stroke-width="1.8" />
<line x1="85.2" y1="764.54" x2="89.7" y2="764.54" stroke="#111" stroke-width="1.8" />
<line x1="485.6" y1="764.54" x2="481.1" y2="764.54" stroke="#111" stroke-width="1.8" />
<line x1="85.2" y1="758.45" x2="89.7" y2="758.45" stroke="#111" stroke-width="1.8" />
<line x1="485.6" y1="758.45" x2="481.1" y2="758.45" stroke="#111" stroke-width="1.8" />
<line x1="85.2" y1="753" x2="94.2" y2="753" stroke="#111" stroke-width="1.8" />
<line x1="485.6" y1="753" x2="476.6" y2="753" stroke="#111" stroke-width="1.8" />
<line x1="85.2" y1="717.15" x2="89.7" y2="717.15" stroke="#111" stroke-width="1.8" />
<line x1="485.6" y1="717.15" x2="481.1" y2="717.15" stroke="#111" stroke-width="1.8" />
<line x1="85.2" y1="696.17" x2="89.7" y2="696.17" stroke="#111" stroke-width="1.8" />
<line x1="485.6" y1="696.17" x2="481.1" y2="696.17" stroke="#111" stroke-width="1.8" />
<line x1="126" y1="991.2" x2="126" y2="982.7" stroke="#111" stroke-width="1.8" />
<line x1="206" y1="991.2" x2="206" y2="982.7" stroke="#111" stroke-width="1.8" />
<line x1="286" y1="991.2" x2="286" y2="982.7" stroke="#111" stroke-width="1.8" />
<line x1="366" y1="991.2" x2="366" y2="982.7" stroke="#111" stroke-width="1.8" />
<line x1="446" y1="991.2" x2="446" y2="982.7" stroke="#111" stroke-width="1.8" />
<line x1="126" y1="826" x2="126" y2="843.4" stroke="#108a84" stroke-width="1.4" />
<line x1="126" y1="873.2" x2="126" y2="886" stroke="#108a84" stroke-width="1.4" />
<line x1="118" y1="826" x2="134" y2="826" stroke="#108a84" stroke-width="1.8" />
<line x1="118" y1="886" x2="134" y2="886" stroke="#108a84" stroke-width="1.8" />
<rect x="106.2" y="843.4" width="39.6" height="29.8" stroke="#108a84" stroke-width="1.9" fill="#a3e4dd" />
<line x1="106.2" y1="859.6" x2="145.8" y2="859.6" stroke="#108a84" stroke-width="1.9" />
<circle cx="126" cy="853" r="3.6" fill="#108a84" />
<line x1="206" y1="731.4" x2="206" y2="756.4" stroke="#1a84d6" stroke-width="1.4" />
<line x1="206" y1="822" x2="206" y2="854.6" stroke="#1a84d6" stroke-width="1.4" />
<line x1="198" y1="731.4" x2="214" y2="731.4" stroke="#1a84d6" stroke-width="1.8" />
<line x1="198" y1="854.6" x2="214" y2="854.6" stroke="#1a84d6" stroke-width="1.8" />
<rect x="186.2" y="756.4" width="39.6" height="65.6" stroke="#1a84d6" stroke-width="1.9" fill="#b5dbf6" />
<line x1="186.2" y1="786.6" x2="225.8" y2="786.6" stroke="#1a84d6" stroke-width="1.9" />
<circle cx="206" cy="772.4" r="3.6" fill="#1a84d6" />
<line x1="286" y1="860.5" x2="286" y2="874.5" stroke="#1b3fbf" stroke-width="1.4" />
<line x1="286" y1="910.5" x2="286" y2="929.5" stroke="#1b3fbf" stroke-width="1.4" />
<line x1="278" y1="860.5" x2="294" y2="860.5" stroke="#1b3fbf" stroke-width="1.8" />
<line x1="278" y1="929.5" x2="294" y2="929.5" stroke="#1b3fbf" stroke-width="1.8" />
<rect x="266.2" y="874.5" width="39.6" height="36" stroke="#1b3fbf" stroke-width="1.9" fill="#afbeeb" />
<line x1="266.2" y1="891" x2="305.8" y2="891" stroke="#1b3fbf" stroke-width="1.9" />
<circle cx="286" cy="886.3" r="3.6" fill="#1b3fbf" />
<line x1="366" y1="765.8" x2="366" y2="788" stroke="#65119a" stroke-width="1.4" />
<line x1="366" y1="837.5" x2="366" y2="856.8" stroke="#65119a" stroke-width="1.4" />
<line x1="358" y1="765.8" x2="374" y2="765.8" stroke="#65119a" stroke-width="1.8" />
<line x1="358" y1="856.8" x2="374" y2="856.8" stroke="#65119a" stroke-width="1.8" />
<rect x="346.2" y="788" width="39.6" height="49.5" stroke="#65119a" stroke-width="1.9" fill="#d6b3e9" />
<line x1="346.2" y1="815" x2="385.8" y2="815" stroke="#65119a" stroke-width="1.9" />
<circle cx="366" cy="801.3" r="3.6" fill="#65119a" />
<line x1="446" y1="857.3" x2="446" y2="870" stroke="#573a68" stroke-width="1.4" />
<line x1="446" y1="902" x2="446" y2="918" stroke="#573a68" stroke-width="1.4" />
<line x1="438" y1="857.3" x2="454" y2="857.3" stroke="#573a68" stroke-width="1.8" />
<line x1="438" y1="918" x2="454" y2="918" stroke="#573a68" stroke-width="1.8" />
<rect x="426.2" y="870" width="39.6" height="32" stroke="#573a68" stroke-width="1.9" fill="#bcadc6" />
<line x1="426.2" y1="885.8" x2="465.8" y2="885.8" stroke="#573a68" stroke-width="1.9" />
<circle cx="446" cy="881.5" r="3.6" fill="#573a68" />
<rect x="85.2" y="696" width="400.4" height="295.2" stroke="#111" stroke-width="1.9" fill="none" />
<text x="78.4" y="1003.7" font-size="24" fill="#111" text-anchor="end" stroke="#111" stroke-width="0.2">10<tspan font-size="19" dx="1" dy="-11.8">-1</tspan></text>
<text x="78.4" y="884.6" font-size="24" fill="#111" text-anchor="end" stroke="#111" stroke-width="0.2">10<tspan font-size="19" dx="1" dy="-11.8">0</tspan></text>
<text x="78.4" y="765.5" font-size="24" fill="#111" text-anchor="end" stroke="#111" stroke-width="0.2">10<tspan font-size="19" dx="1" dy="-11.8">1</tspan></text>
<text x="24.8" y="843.5" font-size="27.3" fill="#111" text-anchor="middle" font-weight="normal" stroke="#111" stroke-width="0.2" transform="rotate(-90 24.8 843.5)">Mixing ratio (ppt)</text>
<text x="98.8" y="969" font-size="30.9" fill="#000" text-anchor="start" font-weight="bold"  >Emerging amines</text>
<g transform="rotate(-35 148.5 1014)">
<text x="148.5" y="1014" font-size="27" fill="#111" font-weight="normal" text-anchor="end" stroke="#111" stroke-width="0.2" >C<tspan font-size="16.74" dy="7.56">2</tspan><tspan dy="-7.56">H</tspan><tspan font-size="16.74" dy="7.56">7</tspan><tspan dy="-7.56">NO</tspan></text>
</g>
<g transform="rotate(-35 228.5 1014)">
<text x="228.5" y="1014" font-size="27" fill="#111" font-weight="normal" text-anchor="end" stroke="#111" stroke-width="0.2" >C<tspan font-size="16.74" dy="7.56">4</tspan><tspan dy="-7.56">H</tspan><tspan font-size="16.74" dy="7.56">10</tspan><tspan dy="-7.56">N</tspan><tspan font-size="16.74" dy="7.56">2</tspan></text>
</g>
<g transform="rotate(-35 308.5 1014)">
<text x="308.5" y="1014" font-size="27" fill="#111" font-weight="normal" text-anchor="end" stroke="#111" stroke-width="0.2" >C<tspan font-size="16.74" dy="7.56">4</tspan><tspan dy="-7.56">H</tspan><tspan font-size="16.74" dy="7.56">11</tspan><tspan dy="-7.56">NO</tspan></text>
</g>
<g transform="rotate(-35 388.5 1014)">
<text x="388.5" y="1014" font-size="27" fill="#111" font-weight="normal" text-anchor="end" stroke="#111" stroke-width="0.2" >C<tspan font-size="16.74" dy="7.56">4</tspan><tspan dy="-7.56">H</tspan><tspan font-size="16.74" dy="7.56">11</tspan><tspan dy="-7.56">NO</tspan><tspan font-size="16.74" dy="7.56">2</tspan></text>
</g>
<g transform="rotate(-35 468.5 1014)">
<text x="468.5" y="1014" font-size="27" fill="#111" font-weight="normal" text-anchor="end" stroke="#111" stroke-width="0.2" >C<tspan font-size="16.74" dy="7.56">5</tspan><tspan dy="-7.56">H</tspan><tspan font-size="16.74" dy="7.56">13</tspan><tspan dy="-7.56">NO</tspan><tspan font-size="16.74" dy="7.56">2</tspan></text>
</g>
<text x="494.4" y="706.3" font-size="35" fill="#000" text-anchor="start" font-weight="bold"  >d</text>
<line x1="566" y1="991.7" x2="570.5" y2="991.7" stroke="#111" stroke-width="1.8" />
<line x1="968" y1="991.7" x2="963.5" y2="991.7" stroke="#111" stroke-width="1.8" />
<line x1="566" y1="986.25" x2="570.5" y2="986.25" stroke="#111" stroke-width="1.8" />
<line x1="968" y1="986.25" x2="963.5" y2="986.25" stroke="#111" stroke-width="1.8" />
<line x1="566" y1="981.65" x2="570.5" y2="981.65" stroke="#111" stroke-width="1.8" />
<line x1="968" y1="981.65" x2="963.5" y2="981.65" stroke="#111" stroke-width="1.8" />
<line x1="566" y1="977.66" x2="570.5" y2="977.66" stroke="#111" stroke-width="1.8" />
<line x1="968" y1="977.66" x2="963.5" y2="977.66" stroke="#111" stroke-width="1.8" />
<line x1="566" y1="974.15" x2="570.5" y2="974.15" stroke="#111" stroke-width="1.8" />
<line x1="968" y1="974.15" x2="963.5" y2="974.15" stroke="#111" stroke-width="1.8" />
<line x1="566" y1="971" x2="574.5" y2="971" stroke="#111" stroke-width="1.8" />
<line x1="968" y1="971" x2="959.5" y2="971" stroke="#111" stroke-width="1.8" />
<line x1="566" y1="950.3" x2="570.5" y2="950.3" stroke="#111" stroke-width="1.8" />
<line x1="968" y1="950.3" x2="963.5" y2="950.3" stroke="#111" stroke-width="1.8" />
<line x1="566" y1="938.2" x2="570.5" y2="938.2" stroke="#111" stroke-width="1.8" />
<line x1="968" y1="938.2" x2="963.5" y2="938.2" stroke="#111" stroke-width="1.8" />
<line x1="566" y1="929.61" x2="570.5" y2="929.61" stroke="#111" stroke-width="1.8" />
<line x1="968" y1="929.61" x2="963.5" y2="929.61" stroke="#111" stroke-width="1.8" />
<line x1="566" y1="922.95" x2="570.5" y2="922.95" stroke="#111" stroke-width="1.8" />
<line x1="968" y1="922.95" x2="963.5" y2="922.95" stroke="#111" stroke-width="1.8" />
<line x1="566" y1="917.5" x2="570.5" y2="917.5" stroke="#111" stroke-width="1.8" />
<line x1="968" y1="917.5" x2="963.5" y2="917.5" stroke="#111" stroke-width="1.8" />
<line x1="566" y1="912.9" x2="570.5" y2="912.9" stroke="#111" stroke-width="1.8" />
<line x1="968" y1="912.9" x2="963.5" y2="912.9" stroke="#111" stroke-width="1.8" />
<line x1="566" y1="908.91" x2="570.5" y2="908.91" stroke="#111" stroke-width="1.8" />
<line x1="968" y1="908.91" x2="963.5" y2="908.91" stroke="#111" stroke-width="1.8" />
<line x1="566" y1="905.4" x2="570.5" y2="905.4" stroke="#111" stroke-width="1.8" />
<line x1="968" y1="905.4" x2="963.5" y2="905.4" stroke="#111" stroke-width="1.8" />
<line x1="566" y1="902.25" x2="574.5" y2="902.25" stroke="#111" stroke-width="1.8" />
<line x1="968" y1="902.25" x2="959.5" y2="902.25" stroke="#111" stroke-width="1.8" />
<line x1="566" y1="881.55" x2="570.5" y2="881.55" stroke="#111" stroke-width="1.8" />
<line x1="968" y1="881.55" x2="963.5" y2="881.55" stroke="#111" stroke-width="1.8" />
<line x1="566" y1="869.45" x2="570.5" y2="869.45" stroke="#111" stroke-width="1.8" />
<line x1="968" y1="869.45" x2="963.5" y2="869.45" stroke="#111" stroke-width="1.8" />
<line x1="566" y1="860.86" x2="570.5" y2="860.86" stroke="#111" stroke-width="1.8" />
<line x1="968" y1="860.86" x2="963.5" y2="860.86" stroke="#111" stroke-width="1.8" />
<line x1="566" y1="854.2" x2="570.5" y2="854.2" stroke="#111" stroke-width="1.8" />
<line x1="968" y1="854.2" x2="963.5" y2="854.2" stroke="#111" stroke-width="1.8" />
<line x1="566" y1="848.75" x2="570.5" y2="848.75" stroke="#111" stroke-width="1.8" />
<line x1="968" y1="848.75" x2="963.5" y2="848.75" stroke="#111" stroke-width="1.8" />
<line x1="566" y1="844.15" x2="570.5" y2="844.15" stroke="#111" stroke-width="1.8" />
<line x1="968" y1="844.15" x2="963.5" y2="844.15" stroke="#111" stroke-width="1.8" />
<line x1="566" y1="840.16" x2="570.5" y2="840.16" stroke="#111" stroke-width="1.8" />
<line x1="968" y1="840.16" x2="963.5" y2="840.16" stroke="#111" stroke-width="1.8" />
<line x1="566" y1="836.65" x2="570.5" y2="836.65" stroke="#111" stroke-width="1.8" />
<line x1="968" y1="836.65" x2="963.5" y2="836.65" stroke="#111" stroke-width="1.8" />
<line x1="566" y1="833.5" x2="574.5" y2="833.5" stroke="#111" stroke-width="1.8" />
<line x1="968" y1="833.5" x2="959.5" y2="833.5" stroke="#111" stroke-width="1.8" />
<line x1="566" y1="812.8" x2="570.5" y2="812.8" stroke="#111" stroke-width="1.8" />
<line x1="968" y1="812.8" x2="963.5" y2="812.8" stroke="#111" stroke-width="1.8" />
<line x1="566" y1="800.7" x2="570.5" y2="800.7" stroke="#111" stroke-width="1.8" />
<line x1="968" y1="800.7" x2="963.5" y2="800.7" stroke="#111" stroke-width="1.8" />
<line x1="566" y1="792.11" x2="570.5" y2="792.11" stroke="#111" stroke-width="1.8" />
<line x1="968" y1="792.11" x2="963.5" y2="792.11" stroke="#111" stroke-width="1.8" />
<line x1="566" y1="785.45" x2="570.5" y2="785.45" stroke="#111" stroke-width="1.8" />
<line x1="968" y1="785.45" x2="963.5" y2="785.45" stroke="#111" stroke-width="1.8" />
<line x1="566" y1="780" x2="570.5" y2="780" stroke="#111" stroke-width="1.8" />
<line x1="968" y1="780" x2="963.5" y2="780" stroke="#111" stroke-width="1.8" />
<line x1="566" y1="775.4" x2="570.5" y2="775.4" stroke="#111" stroke-width="1.8" />
<line x1="968" y1="775.4" x2="963.5" y2="775.4" stroke="#111" stroke-width="1.8" />
<line x1="566" y1="771.41" x2="570.5" y2="771.41" stroke="#111" stroke-width="1.8" />
<line x1="968" y1="771.41" x2="963.5" y2="771.41" stroke="#111" stroke-width="1.8" />
<line x1="566" y1="767.9" x2="570.5" y2="767.9" stroke="#111" stroke-width="1.8" />
<line x1="968" y1="767.9" x2="963.5" y2="767.9" stroke="#111" stroke-width="1.8" />
<line x1="566" y1="764.75" x2="574.5" y2="764.75" stroke="#111" stroke-width="1.8" />
<line x1="968" y1="764.75" x2="959.5" y2="764.75" stroke="#111" stroke-width="1.8" />
<line x1="566" y1="744.05" x2="570.5" y2="744.05" stroke="#111" stroke-width="1.8" />
<line x1="968" y1="744.05" x2="963.5" y2="744.05" stroke="#111" stroke-width="1.8" />
<line x1="566" y1="731.95" x2="570.5" y2="731.95" stroke="#111" stroke-width="1.8" />
<line x1="968" y1="731.95" x2="963.5" y2="731.95" stroke="#111" stroke-width="1.8" />
<line x1="566" y1="723.36" x2="570.5" y2="723.36" stroke="#111" stroke-width="1.8" />
<line x1="968" y1="723.36" x2="963.5" y2="723.36" stroke="#111" stroke-width="1.8" />
<line x1="566" y1="716.7" x2="570.5" y2="716.7" stroke="#111" stroke-width="1.8" />
<line x1="968" y1="716.7" x2="963.5" y2="716.7" stroke="#111" stroke-width="1.8" />
<line x1="566" y1="711.25" x2="570.5" y2="711.25" stroke="#111" stroke-width="1.8" />
<line x1="968" y1="711.25" x2="963.5" y2="711.25" stroke="#111" stroke-width="1.8" />
<line x1="566" y1="706.65" x2="570.5" y2="706.65" stroke="#111" stroke-width="1.8" />
<line x1="968" y1="706.65" x2="963.5" y2="706.65" stroke="#111" stroke-width="1.8" />
<line x1="566" y1="702.66" x2="570.5" y2="702.66" stroke="#111" stroke-width="1.8" />
<line x1="968" y1="702.66" x2="963.5" y2="702.66" stroke="#111" stroke-width="1.8" />
<line x1="566" y1="699.15" x2="570.5" y2="699.15" stroke="#111" stroke-width="1.8" />
<line x1="968" y1="699.15" x2="963.5" y2="699.15" stroke="#111" stroke-width="1.8" />
<line x1="606" y1="991.5" x2="606" y2="983.1" stroke="#111" stroke-width="1.8" />
<line x1="686.5" y1="991.5" x2="686.5" y2="983.1" stroke="#111" stroke-width="1.8" />
<line x1="767" y1="991.5" x2="767" y2="983.1" stroke="#111" stroke-width="1.8" />
<line x1="847.6" y1="991.5" x2="847.6" y2="983.1" stroke="#111" stroke-width="1.8" />
<line x1="928" y1="991.5" x2="928" y2="983.1" stroke="#111" stroke-width="1.8" />
<line x1="606" y1="729" x2="606" y2="739" stroke="#000" stroke-width="1.5" />
<line x1="606" y1="765.6" x2="606" y2="778" stroke="#000" stroke-width="1.5" />
<line x1="598" y1="729" x2="614" y2="729" stroke="#000" stroke-width="1.8" />
<line x1="598" y1="778" x2="614" y2="778" stroke="#000" stroke-width="1.8" />
<rect x="585.8" y="739" width="40.4" height="26.6" stroke="#000" stroke-width="2.2" fill="none" />
<line x1="585.8" y1="751.6" x2="626.2" y2="751.6" stroke="#000" stroke-width="2.2" />
<circle cx="606" cy="746" r="3.9" fill="#000" />
<line x1="686.5" y1="769" x2="686.5" y2="774.6" stroke="#000" stroke-width="1.5" />
<line x1="686.5" y1="792" x2="686.5" y2="801.2" stroke="#000" stroke-width="1.5" />
<line x1="678.5" y1="769" x2="694.5" y2="769" stroke="#000" stroke-width="1.8" />
<line x1="678.5" y1="801.2" x2="694.5" y2="801.2" stroke="#000" stroke-width="1.8" />
<rect x="666.3" y="774.6" width="40.4" height="17.4" stroke="#000" stroke-width="2.2" fill="none" />
<line x1="666.3" y1="782.4" x2="706.7" y2="782.4" stroke="#000" stroke-width="2.2" />
<circle cx="686.5" cy="782" r="3.9" fill="#000" />
<line x1="767" y1="791.7" x2="767" y2="804.4" stroke="#000" stroke-width="1.5" />
<line x1="767" y1="834.9" x2="767" y2="851.7" stroke="#000" stroke-width="1.5" />
<line x1="759" y1="791.7" x2="775" y2="791.7" stroke="#000" stroke-width="1.8" />
<line x1="759" y1="851.7" x2="775" y2="851.7" stroke="#000" stroke-width="1.8" />
<rect x="746.8" y="804.4" width="40.4" height="30.5" stroke="#000" stroke-width="2.2" fill="none" />
<line x1="746.8" y1="817.6" x2="787.2" y2="817.6" stroke="#000" stroke-width="2.2" />
<circle cx="767" cy="811.6" r="3.9" fill="#000" />
<line x1="847.6" y1="832.7" x2="847.6" y2="850.7" stroke="#000" stroke-width="1.5" />
<line x1="847.6" y1="896.3" x2="847.6" y2="976" stroke="#000" stroke-width="1.5" />
<line x1="839.6" y1="832.7" x2="855.6" y2="832.7" stroke="#000" stroke-width="1.8" />
<line x1="839.6" y1="976" x2="855.6" y2="976" stroke="#000" stroke-width="1.8" />
<rect x="827.4" y="850.7" width="40.4" height="45.6" stroke="#000" stroke-width="2.2" fill="none" />
<line x1="827.4" y1="872.3" x2="867.8" y2="872.3" stroke="#000" stroke-width="2.2" />
<circle cx="847.6" cy="858.9" r="3.9" fill="#000" />
<line x1="928" y1="864.4" x2="928" y2="872.8" stroke="#000" stroke-width="1.5" />
<line x1="928" y1="910.5" x2="928" y2="969.5" stroke="#000" stroke-width="1.5" />
<line x1="920" y1="864.4" x2="936" y2="864.4" stroke="#000" stroke-width="1.8" />
<line x1="920" y1="969.5" x2="936" y2="969.5" stroke="#000" stroke-width="1.8" />
<rect x="907.8" y="872.8" width="40.4" height="37.7" stroke="#000" stroke-width="2.2" fill="none" />
<line x1="907.8" y1="886.7" x2="948.2" y2="886.7" stroke="#000" stroke-width="2.2" />
<circle cx="928" cy="884.3" r="3.9" fill="#000" />
<rect x="566" y="696" width="402" height="295.5" stroke="#111" stroke-width="1.9" fill="none" />
<text x="559.2" y="983.5" font-size="24" fill="#111" text-anchor="end" stroke="#111" stroke-width="0.2">10<tspan font-size="19" dx="1" dy="-11.8">-2</tspan></text>
<text x="559.2" y="914.75" font-size="24" fill="#111" text-anchor="end" stroke="#111" stroke-width="0.2">10<tspan font-size="19" dx="1" dy="-11.8">-1</tspan></text>
<text x="559.2" y="846" font-size="24" fill="#111" text-anchor="end" stroke="#111" stroke-width="0.2">10<tspan font-size="19" dx="1" dy="-11.8">0</tspan></text>
<text x="559.2" y="777.25" font-size="24" fill="#111" text-anchor="end" stroke="#111" stroke-width="0.2">10<tspan font-size="19" dx="1" dy="-11.8">1</tspan></text>
<text x="559.2" y="708.5" font-size="24" fill="#111" text-anchor="end" stroke="#111" stroke-width="0.2">10<tspan font-size="19" dx="1" dy="-11.8">2</tspan></text>
<text x="580" y="968.6" font-size="31" fill="#000" text-anchor="start" font-weight="bold"  >Other amines</text>
<text x="631.5" y="1009" font-size="27" fill="#111" stroke="#111" stroke-width="0.2" text-anchor="end" transform="rotate(-35 631.5 1009)">C<tspan font-size="17" dy="7.3">2</tspan><tspan dy="-7.3">-amines</tspan></text>
<text x="712" y="1009" font-size="27" fill="#111" stroke="#111" stroke-width="0.2" text-anchor="end" transform="rotate(-35 712 1009)">C<tspan font-size="17" dy="7.3">3</tspan><tspan dy="-7.3">-amines</tspan></text>
<text x="792.5" y="1009" font-size="27" fill="#111" stroke="#111" stroke-width="0.2" text-anchor="end" transform="rotate(-35 792.5 1009)">C<tspan font-size="17" dy="7.3">4</tspan><tspan dy="-7.3">-amines</tspan></text>
<text x="873.1" y="1009" font-size="27" fill="#111" stroke="#111" stroke-width="0.2" text-anchor="end" transform="rotate(-35 873.1 1009)">C<tspan font-size="17" dy="7.3">5</tspan><tspan dy="-7.3">-amines</tspan></text>
<text x="953.5" y="1009" font-size="27" fill="#111" stroke="#111" stroke-width="0.2" text-anchor="end" transform="rotate(-35 953.5 1009)">C<tspan font-size="17" dy="7.3">6</tspan><tspan dy="-7.3">-amines</tspan></text>
</svg>
</body></html>
